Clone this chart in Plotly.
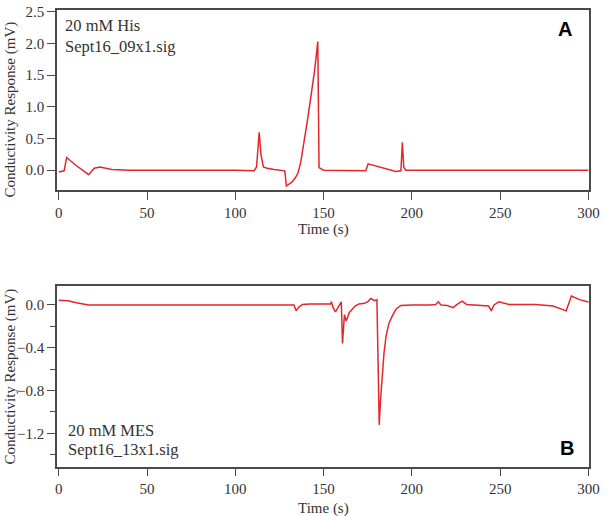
import plotly.graph_objects as go

# ---- Data ----
t_his = [0, 2, 3, 4.4, 10, 16.9, 18, 20, 23.3, 26, 30, 40, 60, 80, 100, 110.6, 112, 113.5, 114.5,
         115.9, 118, 122, 128, 128.9, 130, 132, 134, 135.5, 137, 139, 141, 143, 145, 146.7, 147.4,
         150, 160, 173.9, 175.2, 183, 190.9, 193.8, 194.6, 195.4, 196.5, 210, 240, 260, 275, 285, 300]
v_his = [-0.03, -0.02, -0.01, 0.2, 0.07, -0.07, -0.03, 0.03, 0.05, 0.03, 0.01, 0.0, 0.0, 0.005, 0.0,
         -0.01, 0.05, 0.6, 0.25, 0.05, 0.03, 0.01, -0.01, -0.25, -0.23, -0.19, -0.12, -0.04, 0.12,
         0.45, 0.82, 1.2, 1.6, 2.03, 0.04, 0.0, -0.005, -0.01, 0.1, 0.04, -0.02, -0.01, 0.44, 0.05,
         0.0, 0.0, 0.0, 0.0, 0.01, 0.0, 0.0]

t_mes = [0, 5, 10, 16.8, 30, 60, 100, 133.2, 134.4, 136, 138, 142, 146, 150, 153.9, 154.4, 155.5,
         156.7, 158.5, 160, 160.7, 161.8, 162.8, 164.6, 167.8, 170, 173.3, 175, 176.7, 178.9, 180.2,
         181.5, 182.2, 183, 184.2, 185.4, 187, 189, 191, 193.7, 200, 210, 213.5, 215, 216.5, 220,
         223.3, 226, 228.5, 231, 235, 240, 243.5, 245, 246.5, 249.3, 255, 270, 280, 287.4, 288.5,
         290.4, 295, 300]
v_mes = [0.045, 0.04, 0.02, 0.0, 0.0, 0.003, 0.0, 0.0, -0.055, -0.02, 0.005, 0.01, 0.01, 0.01, 0.01,
         0.03, -0.03, -0.065, -0.02, 0.03, -0.36, -0.09, -0.15, -0.07, -0.01, 0.01, 0.015, 0.03,
         0.06, 0.04, 0.05, -1.12, -0.9, -0.69, -0.45, -0.29, -0.17, -0.1, -0.04, -0.005, 0.0, 0.0,
         0.005, 0.03, 0.0, -0.005, -0.025, 0.01, 0.035, 0.005, 0.0, 0.0, -0.01, -0.055, 0.0, 0.03,
         0.005, 0.005, -0.01, -0.055, -0.01, 0.083, 0.05, 0.028]

x_ticks = [0, 50, 100, 150, 200, 250, 300]
y1_ticks = [0.0, 0.5, 1.0, 1.5, 2.0, 2.5]
y2_ticks = [0.0, -0.4, -0.8, -1.2]
y2_minor = [-0.2, -0.6, -1.0, -1.4]

x_title = "Time (s)"
y_title = "Conductivity Response (mV)"
labels_a = ["20 mM His", "Sept16_09x1.sig"]
labels_b = ["20 mM MES", "Sept16_13x1.sig"]

RED = "#e3262b"
FRAME = "#4a4a4a"
SERIF = "Liberation Serif"
W, H = 613, 516

fig = go.Figure()
fig.add_trace(go.Scatter(x=t_his, y=v_his, mode="lines", line=dict(color=RED, width=1.5),
                         xaxis="x", yaxis="y", showlegend=False))
fig.add_trace(go.Scatter(x=t_mes, y=v_mes, mode="lines", line=dict(color=RED, width=1.5),
                         xaxis="x2", yaxis="y2", showlegend=False))

xdom = [56 / W, 599 / W]
dom1 = [1 - 186 / H, 1 - 4 / H]
dom2 = [1 - 466 / H, 1 - 283 / H]

common_x = dict(range=[-1.1, 300.5], tickvals=x_ticks, ticks="outside", ticklen=8, tickwidth=1.3,
                tickcolor=FRAME, showline=True, linecolor=FRAME, linewidth=1.5, mirror=True,
                showgrid=False, zeroline=False, ticklabeloverflow="allow",
                tickfont=dict(family=SERIF, size=15, color="#333"))
common_y = dict(ticks="outside", ticklen=8, tickwidth=1.3, tickcolor=FRAME, showline=True,
                linecolor=FRAME, linewidth=1.5, mirror=True, showgrid=False, zeroline=False,
                ticklabeloverflow="allow",
                tickfont=dict(family=SERIF, size=15, color="#333"))

fig.update_layout(
    width=W, height=H, margin=dict(l=0, r=0, t=0, b=0),
    paper_bgcolor="white", plot_bgcolor="white",
    xaxis=dict(domain=xdom, anchor="y", **common_x),
    yaxis=dict(domain=dom1, anchor="x", range=[-0.31, 2.53], tickvals=y1_ticks,
               tickformat=".1f", **common_y),
    xaxis2=dict(domain=xdom, anchor="y2", **common_x),
    yaxis2=dict(domain=dom2, anchor="x2", range=[-1.51, 0.18], tickvals=y2_ticks,
                tickformat=".1f",
                minor=dict(tickvals=y2_minor, ticks="outside", ticklen=5, tickwidth=1.3,
                           tickcolor=FRAME),
                **common_y),
)

anns = []
tf = dict(family=SERIF, size=15, color="#333")
# axis titles
for yc in [1 - 226 / H, 1 - 508 / H]:
    anns.append(dict(text=x_title, xref="paper", yref="paper", x=328 / W, y=yc, showarrow=False,
                     xanchor="center", yanchor="middle", font=tf))
for yc in [1 - 105 / H, 1 - 375 / H]:
    anns.append(dict(text=y_title, xref="paper", yref="paper", x=9 / W, y=yc, showarrow=False,
                     textangle=-90, xanchor="center", yanchor="middle", font=tf))
# panel texts
lf = dict(family=SERIF, size=16.5, color="#333")
for txt, ypx in zip(labels_a, [20, 41]):
    anns.append(dict(text=txt, xref="paper", yref="paper", x=62 / W, y=1 - ypx / H,
                     showarrow=False, xanchor="left", yanchor="middle", font=lf))
for txt, ypx in zip(labels_b, [429, 449]):
    anns.append(dict(text=txt, xref="paper", yref="paper", x=65 / W, y=1 - ypx / H,
                     showarrow=False, xanchor="left", yanchor="middle", font=lf))
# panel letters
bf = dict(family="Liberation Sans", size=20, color="black")
anns.append(dict(text="<b>A</b>", xref="paper", yref="paper", x=574 / W, y=1 - 23 / H,
                 showarrow=False, xanchor="center", yanchor="middle", font=bf))
anns.append(dict(text="<b>B</b>", xref="paper", yref="paper", x=576 / W, y=1 - 447 / H,
                 showarrow=False, xanchor="center", yanchor="middle", font=bf))
fig.update_layout(annotations=anns)

fig.write_html("out.html")
